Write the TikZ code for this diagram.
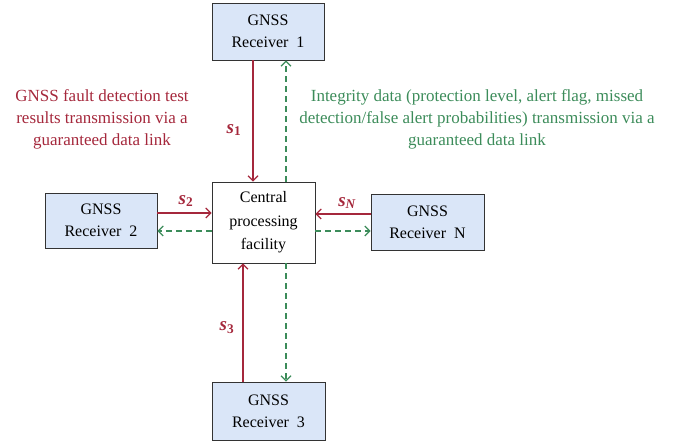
\documentclass[tikz,border=0pt]{standalone}
\usepackage{fontspec}
\setmainfont{Liberation Serif}
\usetikzlibrary{arrows.meta}
\definecolor{redc}{RGB}{165,40,60}
\definecolor{greenc}{RGB}{60,140,90}
\definecolor{boxfill}{RGB}{218,230,248}
\tikzset{
  rx/.style={draw=black!80, line width=0.8pt, fill=boxfill, align=center, inner sep=0pt, font=\fontsize{16}{22}\selectfont},
  cpf/.style={draw=black!80, line width=0.8pt, fill=white, align=center, inner sep=0pt, font=\fontsize{16}{23.5}\selectfont},
  redarr/.style={draw=redc, line width=1.2pt, -{Straight Barb[length=5pt,width=10pt]}},
  grnarr/.style={draw=greenc, line width=1.2pt, dash pattern=on 6pt off 4pt, -{Straight Barb[length=5pt,width=10pt]}},
  sl/.style={text=redc, font=\fontsize{19}{20}\selectfont\bfseries\itshape},
  desc/.style={align=center, font=\fontsize{17}{22}\selectfont}
}
\newcommand{\slab}[1]{s\textsubscript{\bfseries #1}}
\begin{document}
\begin{tikzpicture}[x=1pt,y=-1pt]
\useasboundingbox (0,0) rectangle (678,443);
\node[rx, minimum width=112pt, minimum height=57pt] (R1) at (268,31.5) {GNSS\\Receiver\ \ 1};
\node[rx, minimum width=112pt, minimum height=55pt] (R2) at (101,220.5) {GNSS\\Receiver\ \ 2};
\node[cpf, minimum width=103pt, minimum height=81pt] (C) at (263.5,222.5) {Central\\processing\\facility};
\node[rx, minimum width=113pt, minimum height=56pt] (RN) at (427.5,222) {GNSS\\Receiver\ \ N};
\node[rx, minimum width=113pt, minimum height=58pt] (R3) at (268.5,411) {GNSS\\Receiver\ \ 3};
\coordinate (x1) at (253,0);
\coordinate (xg) at (286,0);
\coordinate (x3) at (243,0);
\coordinate (yr) at (0,213);
\coordinate (yrn) at (0,214);
\coordinate (yg) at (0,231);
\draw[redarr] (R1.south -| x1) -- (C.north -| x1);
\draw[grnarr] (C.north -| xg) -- (R1.south -| xg);
\draw[redarr] (R2.east |- yr) -- (C.west |- yr);
\draw[grnarr] (C.west |- yg) -- (R2.east |- yg);
\draw[redarr] (RN.west |- yrn) -- (C.east |- yrn);
\draw[grnarr] (C.east |- yg) -- (RN.west |- yg);
\draw[redarr] (R3.north -| x3) -- (C.south -| x3);
\draw[grnarr] (C.south -| xg) -- (R3.north -| xg);
\node[sl] (s1) at (234,130) {\slab{\upshape 1}};
\node[sl] (s2) at (186,201) {\slab{\upshape 2}};
\node[sl] (sN) at (347,203) {\slab{N}};
\node[sl] (s3) at (227,328) {\slab{\upshape 3}};
\node[desc, text=redc] (rt) at (102,119) {GNSS fault detection test\\results transmission via a\\guaranteed data link};
\node[desc, text=greenc] (gt) at (477,119) {Integrity data (protection level, alert flag, missed\\detection/false alert probabilities) transmission via a\\guaranteed data link};
\end{tikzpicture}
\end{document}
